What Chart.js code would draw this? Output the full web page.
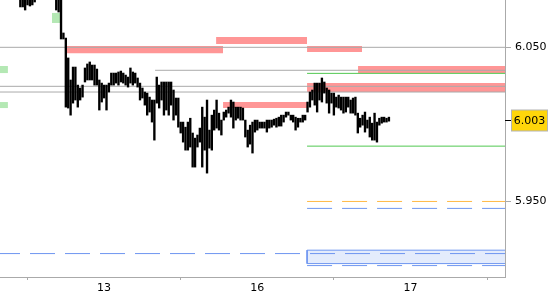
<!DOCTYPE html>
<html>
<head>
<meta charset="utf-8">
<script src="https://cdn.jsdelivr.net/npm/chart.js@4/dist/chart.umd.min.js"></script>
<style>
  body { margin: 0; background: #fff; }
  #price { display: block; }
</style>
</head>
<body>
<canvas id="price" width="550" height="300"></canvas>
<script>
// bar slots: x axis counts bars, days start at these slots
const dayTickSlots = [43, 107, 171];
const dayTickLabels = ["13", "16", "17"];
const slotMin = -0.5;
const slotMax = 210.5;
const priceMin = 5.901;
const priceMax = 6.0807;
const priceTicks = [6.05, 5.95];
const lastPrice = 6.003;

const firstBarSlot = 8;
const barHighs = [
    6.0860, 6.0870, 6.0855, 6.0850, 6.0865, 6.0858, 6.0862, 6.0880, 6.0895, 6.0902,
    6.0910, 6.0898, 6.0885, 6.0872, 6.0860, 6.0830, 6.0815, 6.0820, 6.0593, 6.0560,
    6.0431, 6.0288, 6.0372, 6.0372, 6.0255, 6.0236, 6.0255, 6.0366, 6.0392, 6.0405,
    6.0385, 6.0385, 6.0359, 6.0288, 6.0268, 6.0255, 6.0255, 6.0268, 6.0333, 6.0333,
    6.0333, 6.0340, 6.0346, 6.0333, 6.0320, 6.0307, 6.0366, 6.0340, 6.0333, 6.0301,
    6.0268, 6.0236, 6.0210, 6.0203, 6.0177, 6.0158, 6.0158, 6.0307, 6.0255, 6.0275,
    6.0275, 6.0275, 6.0275, 6.0275, 6.0223, 6.0171, 6.0171, 6.0015, 6.0015, 5.9982,
    6.0015, 6.0040, 5.9944, 5.9911, 5.9931, 5.9976, 6.0112, 6.0047, 6.0158, 5.9963,
    6.0060, 6.0093, 6.0158, 6.0073, 6.0028, 6.0080, 6.0093, 6.0112, 6.0158, 6.0145,
    6.0112, 6.0112, 6.0112, 6.0106, 6.0028, 5.9963, 5.9995, 6.0015, 6.0028, 6.0028,
    6.0015, 6.0015, 6.0015, 6.0028, 6.0028, 6.0028, 6.0034, 6.0040, 6.0047, 6.0060,
    6.0060, 6.0080, 6.0080, 6.0060, 6.0060, 6.0047, 6.0040, 6.0040, 6.0060, 6.0060,
    6.0145, 6.0210, 6.0223, 6.0268, 6.0268, 6.0268, 6.0301, 6.0275, 6.0236, 6.0223,
    6.0203, 6.0203, 6.0177, 6.0190, 6.0177, 6.0177, 6.0177, 6.0177, 6.0158, 6.0171,
    6.0177, 6.0073, 6.0040, 6.0060, 6.0080, 6.0028, 6.0047, 6.0008, 6.0073, 6.0015,
    6.0040, 6.0047, 6.0047, 6.0040, 6.0047
];
const barLows = [
    6.0762, 6.0762, 6.0742, 6.0775, 6.0768, 6.0775, 6.0794, 6.0820, 6.0830, 6.0845,
    6.0850, 6.0838, 6.0825, 6.0815, 6.0810, 6.0742, 6.0729, 6.0554, 6.0554, 6.0112,
    6.0106, 6.0060, 6.0138, 6.0158, 6.0112, 6.0158, 6.0177, 6.0275, 6.0288, 6.0288,
    6.0288, 6.0255, 6.0255, 6.0093, 6.0145, 6.0171, 6.0093, 6.0210, 6.0255, 6.0255,
    6.0268, 6.0255, 6.0275, 6.0268, 6.0255, 6.0242, 6.0268, 6.0255, 6.0268, 6.0242,
    6.0158, 6.0171, 6.0125, 6.0060, 6.0080, 6.0015, 5.9898, 6.0138, 6.0106, 6.0158,
    6.0060, 6.0093, 6.0060, 6.0125, 6.0028, 6.0060, 5.9982, 5.9944, 5.9885, 5.9833,
    5.9833, 5.9853, 5.9723, 5.9723, 5.9853, 5.9885, 5.9723, 5.9833, 5.9684, 5.9846,
    5.9833, 5.9963, 5.9976, 5.9963, 5.9931, 6.0028, 6.0047, 6.0073, 6.0047, 5.9976,
    6.0028, 6.0040, 6.0028, 6.0028, 5.9918, 5.9853, 5.9872, 5.9814, 5.9950, 5.9963,
    5.9976, 5.9976, 5.9976, 5.9950, 5.9976, 5.9982, 5.9995, 5.9982, 5.9989, 5.9989,
    6.0015, 6.0047, 6.0060, 6.0028, 6.0015, 5.9963, 5.9982, 6.0015, 6.0015, 6.0028,
    6.0080, 6.0112, 6.0158, 6.0125, 6.0080, 6.0158, 6.0145, 6.0203, 6.0138, 6.0073,
    6.0138, 6.0060, 6.0112, 6.0106, 6.0093, 6.0073, 6.0080, 6.0112, 6.0073, 6.0073,
    6.0060, 5.9944, 5.9982, 5.9995, 5.9950, 5.9976, 5.9918, 5.9898, 5.9898, 5.9885,
    5.9995, 6.0008, 6.0015, 6.0015, 6.0021
];

// zones: [startSlot, endSlot, top, bottom]
const supplyZones = [
    [27.5, 92.7, 6.0508, 6.0461],
    [89.8, 127.8, 6.0567, 6.0521],
    [127.8, 150.8, 6.0508, 6.0469],
    [149.1, 210.5, 6.0379, 6.0333],
    [127.8, 210.5, 6.0268, 6.0210],
    [92.7, 127.8, 6.0145, 6.0106],
];
const demandZones = [
    [-0.5, 2.8, 6.0379, 6.0333],
    [-0.5, 2.8, 6.0145, 6.0106],
    [21.2, 25.0, 6.0723, 6.0658],
];
const volumeBand = [127.8, 210.5, 5.9184, 5.9097];

// levels: [startSlot, endSlot, price]
const greyLevels = [
    [-0.5, 210.5, 6.0500],
    [64.3, 210.5, 6.0351],
    [-0.5, 210.5, 6.0247],
    [-0.5, 210.5, 6.0210],
];
const greenLevels = [
    [127.8, 210.5, 6.0331],
    [127.8, 210.5, 5.9859],
];
const orangeLevels = [
    [127.8, 210.5, 5.9500],
];
const blueLevels = [
    [127.8, 210.5, 5.9455],
    [-0.5, 210.5, 5.9162],
    [127.8, 210.5, 5.9084],
];

Chart.defaults.font.family = "'DejaVu Sans', sans-serif";
Chart.defaults.font.size = 11;
Chart.defaults.color = "#000";

const bars = [];
for (let i = 0; i < barHighs.length; i++) {
    bars.push({ x: firstBarSlot + i, y: [barLows[i], barHighs[i]] });
}

const datasets = [{
    type: "bar",
    data: bars,
    backgroundColor: "#000",
    barThickness: 1.7,
    grouped: false,
    order: 0,
}];

function zoneSet(z, color) {
    return {
        type: "line",
        data: [{ x: z[0], y: z[2] }, { x: z[1], y: z[2] }],
        borderWidth: 0,
        pointRadius: 0,
        backgroundColor: color,
        fill: { value: z[3] },
        order: 3,
    };
}

function levelSet(l, color, dash, offset) {
    return {
        type: "line",
        data: [{ x: l[0], y: l[2] }, { x: l[1], y: l[2] }],
        borderColor: color,
        borderWidth: 1,
        borderDash: dash,
        borderDashOffset: offset,
        pointRadius: 0,
        fill: false,
        order: 2,
    };
}

supplyZones.forEach((z) => datasets.push(zoneSet(z, "rgb(255, 150, 150)")));
demandZones.forEach((z) => datasets.push(zoneSet(z, "rgb(180, 232, 180)")));
datasets.push(zoneSet(volumeBand, "rgb(228, 236, 252)"));
datasets.push({
    type: "line",
    data: [
        { x: volumeBand[1], y: volumeBand[2] },
        { x: volumeBand[0], y: volumeBand[2] },
        { x: volumeBand[0], y: volumeBand[3] },
        { x: volumeBand[1], y: volumeBand[3] },
    ],
    borderColor: "rgb(110, 150, 240)",
    borderWidth: 1,
    pointRadius: 0,
    fill: false,
    order: 2,
});
greyLevels.forEach((l) => datasets.push(levelSet(l, "#aaaaaa", [], 0)));
greenLevels.forEach((l) => datasets.push(levelSet(l, "rgb(80, 200, 80)", [], 0)));
orangeLevels.forEach((l) => datasets.push(levelSet(l, "rgb(255, 185, 70)", [25, 10], 0)));
blueLevels.forEach((l) =>
    datasets.push(levelSet(l, "rgb(110, 150, 240)", [25, 10], l[0] < 0 ? 5 : 0))
);

const lastPriceTag = {
    id: "lastPriceTag",
    afterDraw(chart) {
        const c = chart.ctx;
        const area = chart.chartArea;
        const y = Math.round(chart.scales.y.getPixelForValue(lastPrice)) + 0.5;
        c.save();
        c.strokeStyle = "#000";
        c.lineWidth = 1;
        c.beginPath();
        c.moveTo(area.right, y);
        c.lineTo(area.right + 6, y);
        c.stroke();
        c.fillStyle = "rgb(255, 214, 10)";
        c.fillRect(area.right + 6.5, y - 10.5, 36, 21);
        c.strokeStyle = "#b4b4b4";
        c.strokeRect(area.right + 6.5, y - 10.5, 36, 21);
        c.fillStyle = "#000";
        c.font = "11px 'DejaVu Sans'";
        c.textAlign = "center";
        c.textBaseline = "middle";
        c.fillText(lastPrice.toFixed(3), area.right + 24.5, y + 1);
        c.restore();
    },
};

new Chart(document.getElementById("price"), {
    type: "bar",
    data: { datasets: datasets },
    plugins: [lastPriceTag],
    options: {
        responsive: false,
        animation: false,
        layout: { padding: 0 },
        plugins: {
            legend: { display: false },
            tooltip: { enabled: false },
        },
        scales: {
            x: {
                type: "linear",
                min: slotMin,
                max: slotMax,
                offset: false,
                afterBuildTicks: (axis) => {
                    axis.ticks = dayTickSlots.map((v) => ({ value: v }));
                },
                afterFit: (axis) => {
                    axis.height = 23;
                    axis.paddingLeft = 0;
                    axis.paddingRight = 0;
                },
                ticks: {
                    autoSkip: false,
                    maxRotation: 0,
                    padding: 2,
                    callback: (v) => dayTickLabels[dayTickSlots.indexOf(v)],
                },
                grid: {
                    drawOnChartArea: false,
                    tickLength: 3,
                    color: "#aaaaaa",
                },
                border: { color: "#aaaaaa" },
            },
            y: {
                position: "right",
                min: priceMin,
                max: priceMax,
                afterBuildTicks: (axis) => {
                    axis.ticks = priceTicks.map((v) => ({ value: v }));
                },
                afterFit: (axis) => {
                    axis.width = 45;
                    axis.paddingTop = 0;
                    axis.paddingBottom = 0;
                },
                ticks: {
                    padding: 4,
                    callback: (v) => v.toFixed(3),
                },
                grid: {
                    drawOnChartArea: false,
                    tickLength: 6,
                    color: "#aaaaaa",
                },
                border: { color: "#aaaaaa" },
            },
        },
    },
});
</script>
</body>
</html>
